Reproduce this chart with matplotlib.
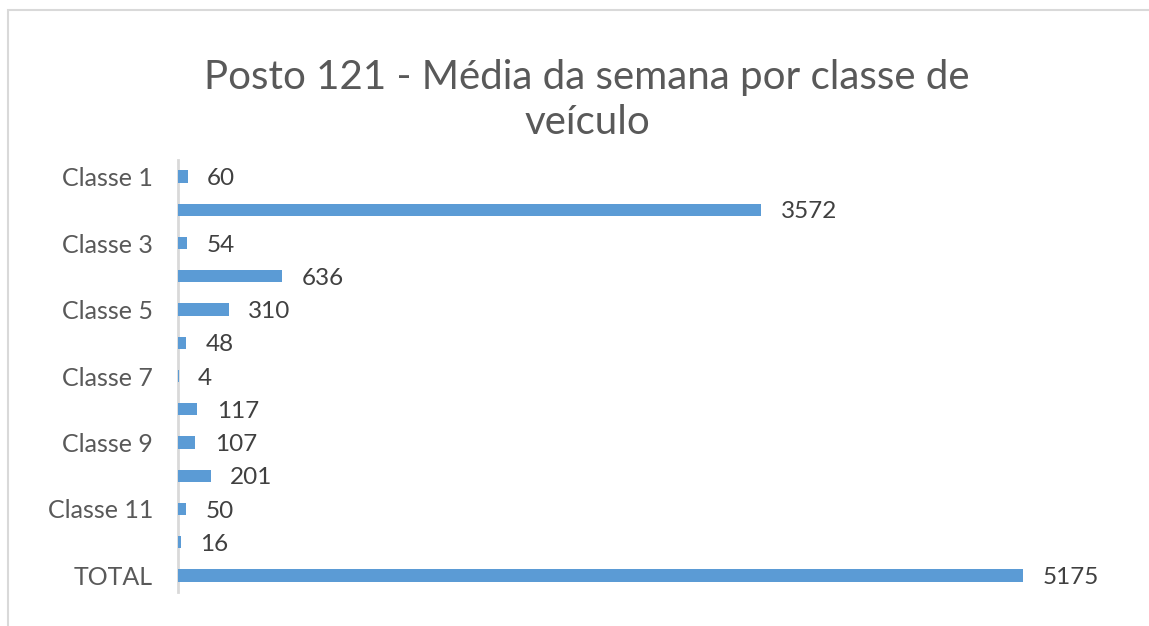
import matplotlib.pyplot as plt
from matplotlib.patches import Rectangle

categories = ['Classe 1', 'Classe 2', 'Classe 3', 'Classe 4', 'Classe 5', 'Classe 6',
              'Classe 7', 'Classe 8', 'Classe 9', 'Classe 10', 'Classe 11', 'Classe 12',
              'TOTAL']
values = [60, 3572, 54, 636, 310, 48, 4, 117, 107, 201, 50, 16, 5175]
title = 'Posto 121 - Média da semana por classe de\nveículo'

bar_color = '#5B9BD5'
text_gray = '#595959'
label_gray = '#404040'

plt.rcParams['font.family'] = ['Lato', 'DejaVu Sans']

W, H = 1149, 626
fig = plt.figure(figsize=(W / 100, H / 100), dpi=100)

# chart area frame (only top and left edges fall inside the image)
fig.patches.append(Rectangle((8 / W, -0.1), 1.2, 1 - 10 / H + 0.1,
                             transform=fig.transFigure, fill=False,
                             edgecolor='#D9D9D9', linewidth=1.5))

left, right, top, bottom = 178, 1120, 160, 592
ax = fig.add_axes([left / W, 1 - bottom / H, (right - left) / W, (bottom - top) / H])

y = list(range(len(categories)))
ax.barh(y, values, height=0.37, color=bar_color, zorder=3)

# scale: 5175 ends at x=1023 px
px_per_unit = (1023 - left) / 5175
ax.set_xlim(0, (right - left) / px_per_unit)
ax.set_ylim(len(categories) - 0.5, -0.5)

for yi, v in zip(y, values):
    ax.annotate(str(v), (v, yi), xytext=(14, -1.5), textcoords='offset points',
                va='center', ha='left', fontsize=17.5, color=label_gray)

ax.set_yticks(y)
ax.set_yticklabels([c if i % 2 == 0 else '' for i, c in enumerate(categories)],
                   fontsize=18, color=text_gray)
ax.tick_params(axis='y', length=0, pad=18)
ax.set_xticks([])
for s in ['top', 'right', 'bottom']:
    ax.spines[s].set_visible(False)
ax.spines['left'].set_color('#D9D9D9')
ax.spines['left'].set_linewidth(2)
ax.spines['left'].set_zorder(1)

fig.text(587 / W, 1 - 100 / H, title, ha='center', va='center', fontsize=29,
         color=text_gray, linespacing=1.3)

fig.savefig('out.png', dpi=100)
